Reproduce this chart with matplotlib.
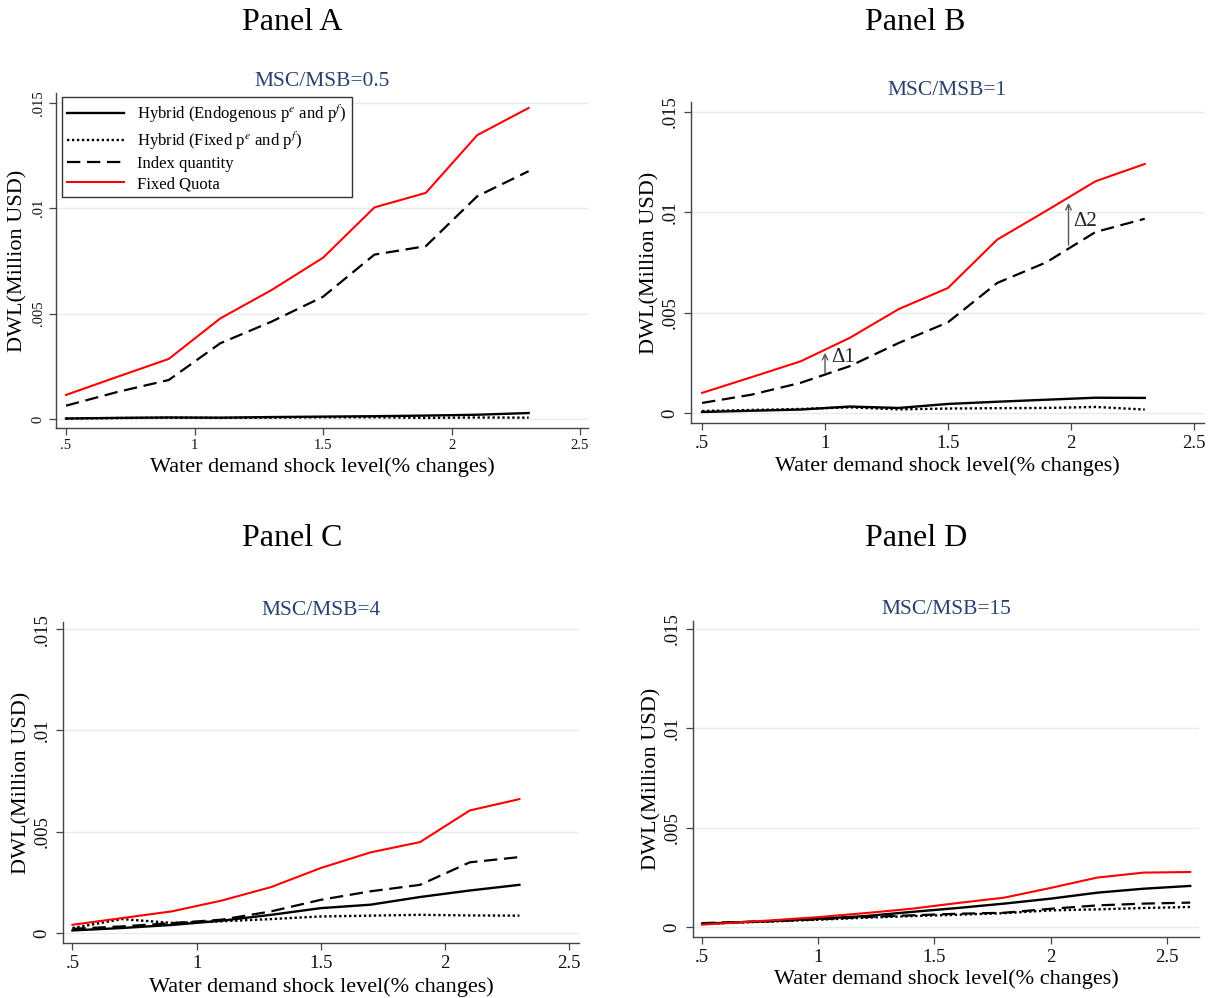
import matplotlib.pyplot as plt
import numpy as np

plt.rcParams['font.family'] = ['Liberation Serif', 'DejaVu Serif']
plt.rcParams['mathtext.fontset'] = 'stix'

# shock levels (% changes)
shock = [0.5, 0.7, 0.9, 1.1, 1.3, 1.5, 1.7, 1.9, 2.1, 2.3]
shock_d = [0.5, 0.8, 1.0, 1.2, 1.4, 1.6, 1.8, 2.0, 2.2, 2.4, 2.6]

# Panel A, MSC/MSB=0.5
a_endo = [0.00002, 0.00005, 0.00007, 0.00006, 0.00009, 0.00011, 0.00013, 0.00016, 0.00020, 0.00028]
a_fixed = [0.00002, 0.00004, 0.00006, 0.00005, 0.00006, 0.00008, 0.00008, 0.00005, 0.00007, 0.00006]
a_index = [0.00063, 0.00128, 0.00185, 0.00359, 0.00462, 0.00580, 0.00780, 0.00820, 0.01057, 0.01176]
a_quota = [0.00114, 0.00200, 0.00285, 0.00477, 0.00612, 0.00765, 0.01004, 0.01073, 0.01347, 0.01476]

# Panel B, MSC/MSB=1
b_endo = [0.00005, 0.00011, 0.00017, 0.00032, 0.00025, 0.00045, 0.00056, 0.00066, 0.00076, 0.00075]
b_fixed = [0.00010, 0.00015, 0.00020, 0.00028, 0.00018, 0.00022, 0.00024, 0.00025, 0.00030, 0.00017]
b_index = [0.00050, 0.00091, 0.00150, 0.00233, 0.00349, 0.00452, 0.00648, 0.00751, 0.00902, 0.00968]
b_quota = [0.00100, 0.00178, 0.00257, 0.00374, 0.00518, 0.00623, 0.00864, 0.01008, 0.01155, 0.01241]

# Panel C, MSC/MSB=4
c_endo = [0.00013, 0.00025, 0.00040, 0.00061, 0.00090, 0.00123, 0.00140, 0.00178, 0.00210, 0.00238]
c_fixed = [0.00025, 0.00069, 0.00050, 0.00058, 0.00069, 0.00082, 0.00086, 0.00090, 0.00087, 0.00086]
c_index = [0.00021, 0.00033, 0.00049, 0.00066, 0.00107, 0.00164, 0.00206, 0.00238, 0.00349, 0.00375]
c_quota = [0.00041, 0.00074, 0.00107, 0.00160, 0.00227, 0.00321, 0.00398, 0.00449, 0.00605, 0.00661]

# Panel D, MSC/MSB=15
d_endo = [0.00017, 0.00030, 0.00042, 0.00055, 0.00076, 0.00096, 0.00118, 0.00143, 0.00173, 0.00193, 0.00207]
d_fixed = [0.00017, 0.00028, 0.00037, 0.00047, 0.00055, 0.00062, 0.00070, 0.00084, 0.00089, 0.00096, 0.00101]
d_index = [0.00020, 0.00030, 0.00039, 0.00050, 0.00059, 0.00067, 0.00072, 0.00092, 0.00109, 0.00118, 0.00123]
d_quota = [0.00012, 0.00034, 0.00050, 0.00070, 0.00092, 0.00121, 0.00148, 0.00197, 0.00249, 0.00274, 0.00277]

labels = ['Hybrid (Endogenous p$^{e}$ and p$^{f}$)',
          'Hybrid (Fixed p$^{e}$ and p$^{f}$)',
          'Index quantity',
          'Fixed Quota']
panel_names = ['Panel A', 'Panel B', 'Panel C', 'Panel D']
ratio_titles = ['MSC/MSB=0.5', 'MSC/MSB=1', 'MSC/MSB=4', 'MSC/MSB=15']
yticks = [0, 0.005, 0.01, 0.015]
ytick_labels = ['0', '.005', '.01', '.015']
xticks = [0.5, 1, 1.5, 2, 2.5]
xtick_labels = ['.5', '1', '1.5', '2', '2.5']

W, H = 1214, 998
fig = plt.figure(figsize=(W / 100, H / 100), dpi=100)

# axes boxes in pixels: left, right, top, bottom
boxes = [(56, 588, 93, 428), (691, 1204, 102, 423),
         (63, 579, 622, 943), (693, 1199, 621, 937)]
xlims = [(0.461, 2.531), (0.455, 2.541), (0.462, 2.540), (0.461, 2.638)]
ylims = [(-0.00043, 0.01547), (-0.0005, 0.0155), (-0.00049, 0.01535), (-0.0005, 0.0154)]
ylabel_x = [-0.0714, -0.080, -0.0805, -0.081]
xlabel_y = [-0.116, -0.134, -0.137, -0.133]
heading_pos = [(292, 22), (915, 22), (292, 539), (916, 539)]

series = [
    (shock, a_endo, a_fixed, a_index, a_quota),
    (shock, b_endo, b_fixed, b_index, b_quota),
    (shock, c_endo, c_fixed, c_index, c_quota),
    (shock_d, d_endo, d_fixed, d_index, d_quota),
]

for i, (x, endo, fixed, index, quota) in enumerate(series):
    l, r, t, b = boxes[i]
    ax = fig.add_axes([l / W, 1 - b / H, (r - l) / W, (b - t) / H])
    for y in yticks:
        ax.axhline(y, color='#e4eeee', lw=1, zorder=0)
    ax.plot(x, endo, color='black', lw=1.7, label=labels[0])
    ax.plot(x, fixed, color='black', lw=1.7, ls=(0, (1, 1.1)), label=labels[1])
    ax.plot(x, index, color='black', lw=1.6, ls=(0, (6, 3)), label=labels[2])
    ax.plot(x, quota, color='red', lw=1.5, label=labels[3])
    ax.set_xlim(*xlims[i])
    ax.set_ylim(*ylims[i])

    if i == 0:
        xsize, ysize, tpad = 10.5, 10.5, 3
    else:
        xsize, ysize, tpad = 13.5, 13.5, 4
    ax.set_xticks(xticks)
    ax.set_xticklabels(xtick_labels, fontsize=xsize)
    ax.set_yticks(yticks)
    ax.set_yticklabels(ytick_labels, fontsize=ysize, rotation=90, va='center')
    ax.tick_params(direction='out', length=5, width=0.9, pad=tpad,
                   color='#444444', labelcolor='#111111')
    for s in ['top', 'right']:
        ax.spines[s].set_visible(False)
    for s in ['left', 'bottom']:
        ax.spines[s].set_color('#444444')
        ax.spines[s].set_linewidth(1.0)

    ax.set_ylabel('DWL(Million USD)', fontsize=16)
    ax.yaxis.label.set_va('center')
    ax.yaxis.set_label_coords(ylabel_x[i], 0.5)
    ax.set_xlabel('Water demand shock level(% changes)', fontsize=16)
    ax.xaxis.label.set_va('center')
    ax.xaxis.set_label_coords(0.5, xlabel_y[i])
    ax.set_title(ratio_titles[i], fontsize=15.5, color='#2a4170', pad=5)

    hx, hy = heading_pos[i]
    fig.text(hx / W, 1 - hy / H, panel_names[i], fontsize=23, ha='center', va='center')

    if i == 0:
        leg = ax.legend(loc='upper left', bbox_to_anchor=(6 / (r - l), 1 - 4 / (b - t)),
                        borderaxespad=0, fontsize=12, frameon=True, fancybox=False,
                        edgecolor='#333333', framealpha=1, handlelength=3.4,
                        labelspacing=0.25, borderpad=0.3)
        leg.get_frame().set_linewidth(1.0)

    if i == 1:
        arrow = dict(arrowstyle='->', color='#555555', lw=1.0, shrinkA=0, shrinkB=0)
        ax.annotate('', xy=(1.0, 0.0030), xytext=(1.0, 0.0020), arrowprops=arrow)
        ax.text(1.025, 0.00274, '\u03941', fontsize=15, va='center', color='#222222')
        ax.annotate('', xy=(1.99, 0.01047), xytext=(1.99, 0.00837), arrowprops=arrow)
        ax.text(2.01, 0.00952, '\u03942', fontsize=15, va='center', color='#222222')

fig.savefig('out.png', dpi=100)
